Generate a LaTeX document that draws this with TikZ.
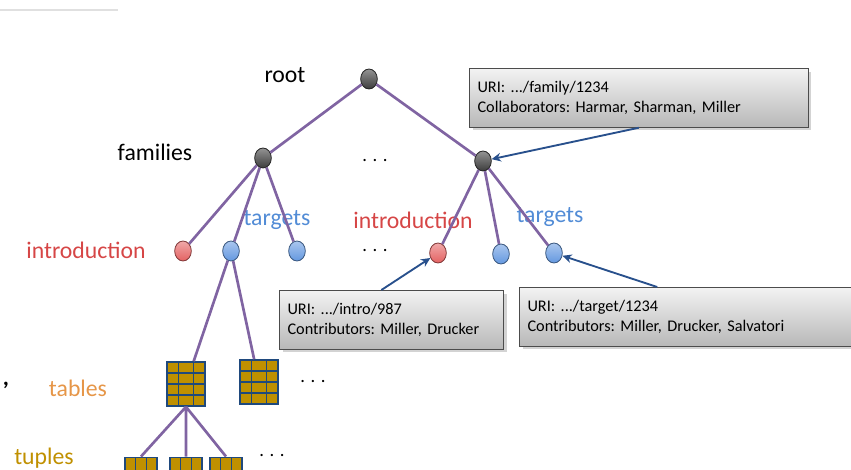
\documentclass[tikz,border=0pt]{standalone}
\usepackage{fontspec}
\setmainfont{Carlito}
\usetikzlibrary{shapes.geometric, positioning, arrows.meta, shadows, calc}

\definecolor{edgepurple}{RGB}{128,100,162}
\definecolor{introred}{RGB}{214,70,70}
\definecolor{targetblue}{RGB}{82,140,214}
\definecolor{famgray}{RGB}{60,60,60}
\definecolor{nodered}{RGB}{228,98,98}
\definecolor{nodeblue}{RGB}{100,152,224}
\definecolor{tableorange}{RGB}{230,150,72}
\definecolor{tuplegold}{RGB}{192,144,0}
\definecolor{cellfill}{RGB}{191,144,0}
\definecolor{cellline}{RGB}{31,73,125}
\definecolor{arrowblue}{RGB}{40,80,140}

\tikzset{
  edge/.style={draw=edgepurple, line width=2pt},
  ptr/.style={draw=arrowblue, line width=1.4pt, -{Stealth[length=7pt, width=6.5pt]}},
  vertex/.style={ellipse, minimum width=12.5pt, minimum height=15pt, inner sep=0pt,
    draw=#1!55!black, line width=0.6pt, top color=#1!55!white, bottom color=#1},
  lbl/.style={font=\fontsize{17.8}{20}\selectfont},
  more/.style={font=\fontsize{14}{16}\selectfont, inner sep=1pt},
  info/.style={draw=black!70, line width=0.8pt, top color=black!5, bottom color=black!28,
    drop shadow={opacity=0.35}, align=left, font=\fontsize{12.2}{15}\selectfont\frenchspacing,
    inner xsep=6pt, anchor=north west},
  grid/.style={draw=cellline, line width=1.2pt, fill=cellfill, inner sep=0pt},
  tbl/.style={grid, minimum width=28.5pt, minimum height=33pt,
    path picture={
      \foreach \f in {0.3,0.7} \draw[cellline, line width=1pt]
        ($(path picture bounding box.south west)!\f!(path picture bounding box.south east)$) --
        ($(path picture bounding box.north west)!\f!(path picture bounding box.north east)$);
      \foreach \f in {0.25,0.5,0.75} \draw[cellline, line width=1pt]
        ($(path picture bounding box.south west)!\f!(path picture bounding box.north west)$) --
        ($(path picture bounding box.south east)!\f!(path picture bounding box.north east)$);
    }},
  tpl/.style={grid, minimum width=24pt, minimum height=13pt,
    path picture={
      \foreach \f in {0.33,0.67} \draw[cellline, line width=1pt]
        ($(path picture bounding box.south west)!\f!(path picture bounding box.south east)$) --
        ($(path picture bounding box.north west)!\f!(path picture bounding box.north east)$);
    }}
}
\newcommand{\spreaddots}{.\hspace{0.3em}.\hspace{0.3em}.}

\begin{document}
\begin{tikzpicture}[x=0.75pt, y=-0.75pt]
        \useasboundingbox (0,0) rectangle (851,470);
        \draw[black!12, line width=0.8pt] (0,10) -- (118,10);

        % labels of the levels
        \node[lbl] (lroot) at (285,75) {root};
        \node[lbl] (lfam) at (155,152) {families};
        \node[lbl, text=introred] (lintro1) at (86,250) {introduction};
        \node[lbl, text=targetblue] (ltarg1) at (277,220) {targets};
        \node[lbl, text=introred] (lintro2) at (413,220) {introduction};
        \node[lbl, text=targetblue] (ltarg2) at (550,217) {targets};
        \node[lbl, text=tableorange] (ltab) at (78,388) {tables};
        \node[lbl, text=tuplegold] (ltup) at (44,458) {tuples};
        \node[lbl] (comma) at (6,385) {\textbf{,}};
        \node[more] (dots1) at (375,161) {\spreaddots};
        \node[more] (dots2) at (375,251) {\spreaddots};
        \node[more] (dots3) at (313,382) {\spreaddots};
        \node[more] (dots4) at (272,456) {\spreaddots};

        % tree
        \node[vertex=famgray] (root) at (369,79) {};
        \node[vertex=famgray] (f1) at (263,158) {};
        \node[vertex=famgray] (f2) at (483,161) {};
        \node[vertex=nodered] (i1) at (183,251) {};
        \node[vertex=nodeblue] (t1) at (231,251) {};
        \node[vertex=nodeblue] (t2) at (297,251) {};
        \node[vertex=nodered] (i2) at (438,253) {};
        \node[vertex=nodeblue] (t3) at (501,254) {};
        \node[vertex=nodeblue] (t4) at (554,253) {};
        \node[tbl] (tab1) at (186,384) {};
        \node[tbl] (tab2) at (259,382) {};
        \node[tpl] (u1) at (141,466) {};
        \node[tpl] (u2) at (186,466) {};
        \node[tpl] (u3) at (226,466) {};

        \draw[edge] (root) -- (f1) (root) -- (f2)
        (f1) -- (i1) (f1) -- (t1) (f1) -- (t2)
        (f2) -- (i2) (f2) -- (t3) (f2) -- (t4)
        (t1) -- (tab1) (t1) -- (tab2)
        (tab1.south) -- (u1.north) (tab1.south) -- (u2.north) (tab1.south) -- (u3.north)
        ;

        % metadata
        \node[info, text width=242pt, minimum height=44pt] (famInfo) at (469,68)
          {URI: .../family/1234\\Collaborators: Harmar, Sharman, Miller};
        \node[info, text width=156pt, minimum height=44pt] (introInfo) at (279,290)
          {URI: .../intro/987\\Contributors: Miller, Drucker};
        \node[info, text width=237pt, minimum height=44pt] (targInfo) at (519,287)
          {URI: .../target/1234\\Contributors: Miller, Drucker, Salvatori};

        \draw[ptr] (famInfo.south) -- (f2);
        \draw[ptr] ($(introInfo.north west)!0.455!(introInfo.north east)$) -- (i2);
        \draw[ptr] ($(targInfo.north west)!0.415!(targInfo.north east)$) -- (t4);
    \end{tikzpicture}
\end{document}
